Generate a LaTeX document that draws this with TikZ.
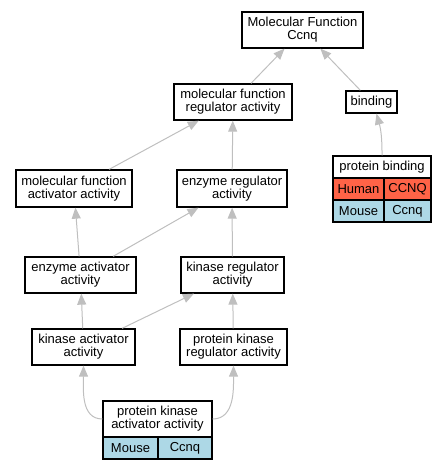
\documentclass[tikz,border=0pt]{standalone}
\usepackage{fontspec}
\setmainfont{Liberation Sans}
\usetikzlibrary{arrows.meta}
\definecolor{humanred}{HTML}{FF6347}
\definecolor{mouseblue}{HTML}{ADD8E6}

\begin{document}
\begin{tikzpicture}[x=1pt,y=-1pt,
  box/.style={draw,line width=1.3pt,inner sep=0pt,align=center,font=\fontsize{13}{13}\selectfont},
  cell/.style={box,minimum height=22pt},
  edge/.style={draw=black!25,line width=1pt,-{Triangle[length=11pt,width=9pt]}}]
  \useasboundingbox (0,0) rectangle (445,469);
  \node[box,minimum width=121pt,minimum height=36pt] (mfccnq) at (302.5,30) {Molecular Function\\Ccnq};
  \node[box,minimum width=118pt,minimum height=36pt] (mfreg) at (233,102) {molecular function\\regulator activity};
  \node[box,minimum width=51pt,minimum height=22pt] (binding) at (371.5,102) {binding};
  \node[box,minimum width=116pt,minimum height=37pt] (mfact) at (74,188.5) {molecular function\\activator activity};
  \node[box,minimum width=110pt,minimum height=37pt] (enzreg) at (232,188.5) {enzyme regulator\\activity};
  \node[box,minimum width=111pt,minimum height=36pt] (enzact) at (80.5,275) {enzyme activator\\activity};
  \node[box,minimum width=103pt,minimum height=36pt] (kinreg) at (232.5,275) {kinase regulator\\activity};
  \node[box,minimum width=103pt,minimum height=36pt] (kinact) at (83.5,347) {kinase activator\\activity};
  \node[box,minimum width=107pt,minimum height=36pt] (pkreg) at (233.5,347) {protein kinase\\regulator activity};

  % protein binding table
  \node[cell,minimum width=98pt] (pbhead) at (382,167) {protein binding};
  \node[cell,fill=humanred,minimum width=51pt] (pbhuman) at (358.5,189) {Human};
  \node[cell,fill=humanred,minimum width=47pt] (pbgeneh) at (407.5,189) {CCNQ};
  \node[cell,fill=mouseblue,minimum width=51pt] (pbmouse) at (358.5,211) {Mouse};
  \node[cell,fill=mouseblue,minimum width=47pt] (pbgenem) at (407.5,211) {Ccnq};

  % protein kinase activator activity table
  \node[box,minimum width=109pt,minimum height=36pt] (pkahead) at (157.5,419) {protein kinase\\activator activity};
  \node[cell,fill=mouseblue,minimum width=55pt] (pkamouse) at (130.5,448) {Mouse};
  \node[cell,fill=mouseblue,minimum width=54pt] (pkagene) at (185,448) {Ccnq};

  \draw[edge] (mfreg) -- (mfccnq);
  \draw[edge] (binding) -- (mfccnq);
  \draw[edge] (pbhead.north) to[bend right=8] ([xshift=5pt]binding.south);
  \draw[edge] (mfact) -- (mfreg);
  \draw[edge] (enzreg) -- (mfreg);
  \draw[edge] (enzact) -- (mfact);
  \draw[edge] (enzact) -- (enzreg);
  \draw[edge] (kinreg) -- (enzreg);
  \draw[edge] (kinact) -- (enzact);
  \draw[edge] (kinact) -- (kinreg);
  \draw[edge] (pkreg) -- (kinreg);
  \draw[edge] (pkahead.west) to[out=180,in=-90] (kinact.south);
  \draw[edge] (pkahead.east) to[out=0,in=-90] (pkreg.south);
\end{tikzpicture}
\end{document}
